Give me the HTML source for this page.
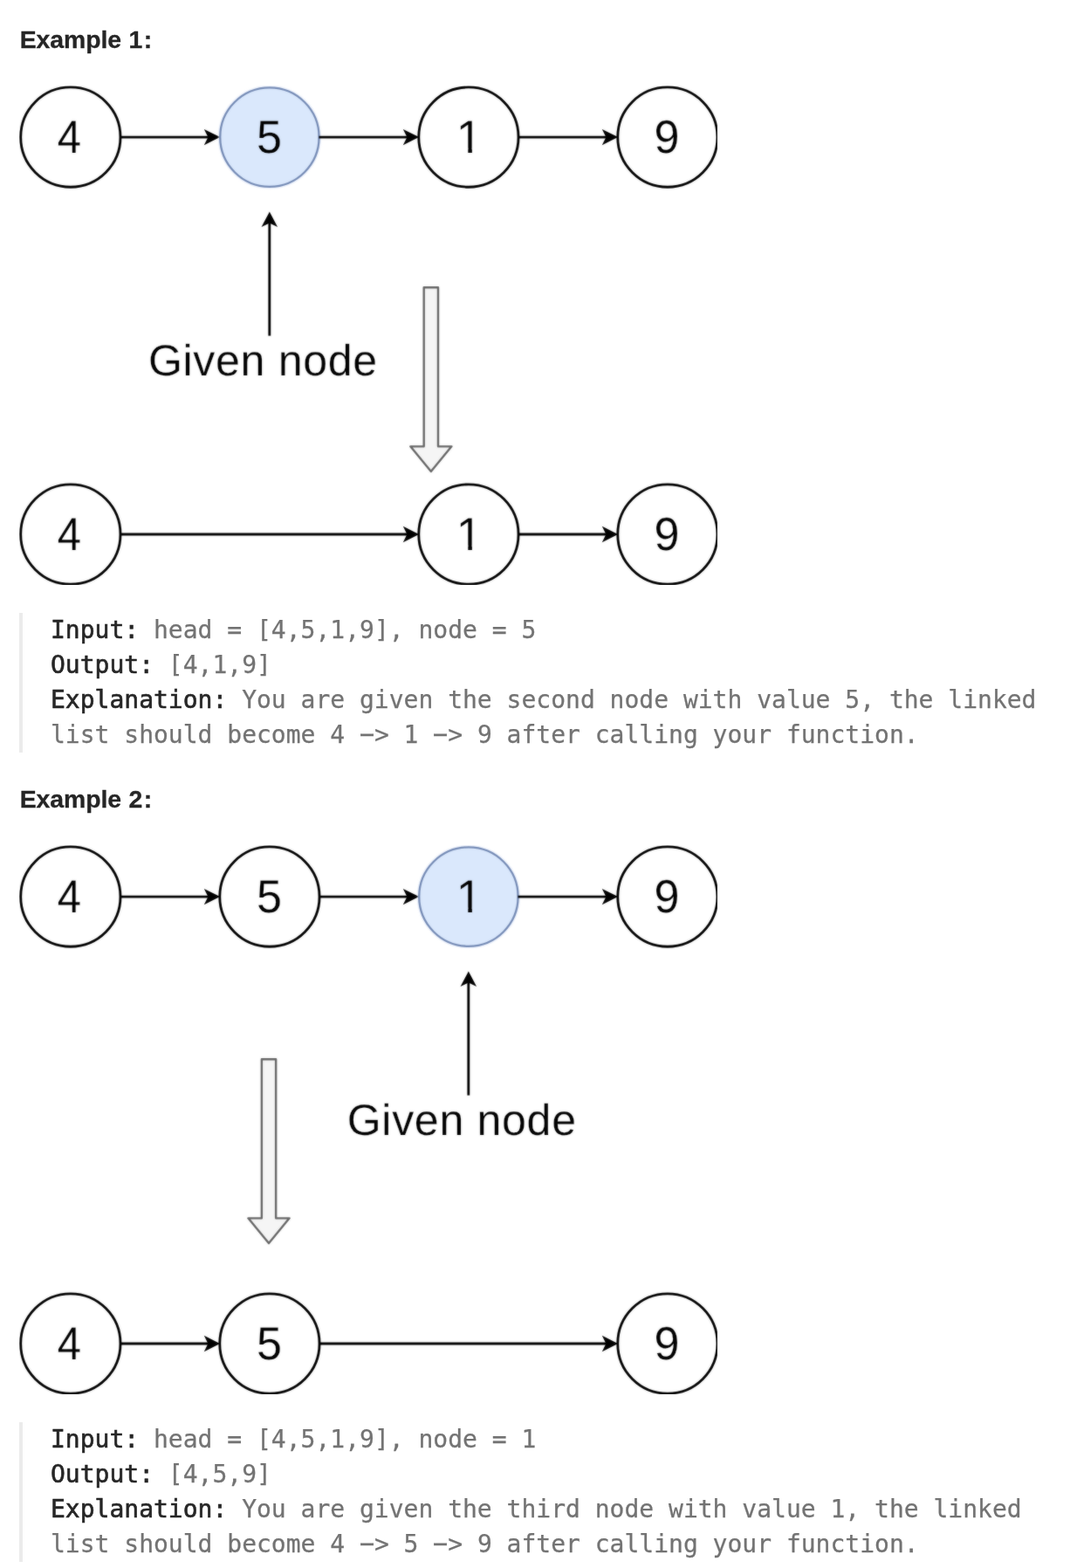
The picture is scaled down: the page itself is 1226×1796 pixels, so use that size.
<!DOCTYPE html>
<html lang="en">
<head>
<meta charset="utf-8">
<title>Delete Node in a Linked List - Examples</title>
<style>
html,body{margin:0;padding:0;background:#fff;}
body{width:1226px;height:1796px;position:relative;overflow:hidden;}
.h{position:absolute;left:22.5px;transform:translate(-0.35px,-0.3px);margin:0;font:bold 28.4px/40px "Liberation Sans",sans-serif;color:#262626;white-space:nowrap;letter-spacing:-0.07px;word-spacing:0.7px;will-change:transform;-webkit-text-stroke:0.3px #262626;}
.h span{letter-spacing:1.5px;}
.dia{position:absolute;left:22.0px;overflow:hidden;}
.cw{fill:#fff;stroke:#000;stroke-width:2.85;}
.cb{fill:#dae8fc;stroke:#758bb5;stroke-width:2.3;}
.ch{fill:none;stroke:#d4e2fa;stroke-width:1.6;stroke-opacity:0.4;}
.ln{fill:none;stroke:#000;stroke-width:2.85;}
.hd{fill:#000;stroke:#000;stroke-width:2.85;stroke-miterlimit:10;}
.ba{fill:#f5f5f5;stroke:#666;stroke-width:2.4;stroke-linejoin:round;}
.dg{stroke:#fff;stroke-width:0.2px;}
.gn{stroke:#fff;stroke-width:0.25px;}
.cb+text,.cb+clipPath+text{stroke:#dae8fc;}
.dg{text-rendering:geometricPrecision;font:53.2px "Liberation Sans",sans-serif;fill:#000;text-anchor:middle;}
.gn{text-rendering:geometricPrecision;font:50.1px "Liberation Sans",sans-serif;fill:#000;letter-spacing:0.68px;}
pre{position:absolute;left:22px;margin:0;box-sizing:border-box;width:1182px;height:160px;border-left:4px solid #ebebeb;padding:0 0 0 32px;
font:28px/40px "DejaVu Sans Mono","Liberation Mono",monospace;color:#737373;-webkit-text-stroke:0.25px #737373;white-space:pre-wrap;will-change:transform;}
pre b{color:#262626;font-weight:normal;-webkit-text-stroke:0.6px #262626;}
pre i{display:inline-block;font-style:normal;transform:translateY(-0.9px) scaleX(2.05);}
</style>
</head>
<body>
<p class="h" style="top:25px">Example <span>1</span>:</p>
<svg class="dia" style="top:98px" width="800" height="572" viewBox="0 0 800 572"><filter id="s98" filterUnits="userSpaceOnUse" x="0" y="0" width="800" height="572" color-interpolation-filters="sRGB"><feGaussianBlur in="SourceGraphic" stdDeviation="0.8" result="b"/><feComposite in="b" in2="SourceGraphic" operator="arithmetic" k1="0" k2="0.42" k3="0.58" k4="0"/></filter><g filter="url(#s98)"><circle cx="58.85" cy="59.10" r="57.15" class="cw"/><text x="57.45" y="77.10" class="dg" transform="translate(57.45 0) scale(0.92 1) translate(-57.45 0)">4</text><path d="M115.40 59.10H217.99" class="ln"/><path d="M226.95 59.10L215.00 53.10L217.99 59.10L215.00 65.10Z" class="hd"/><circle cx="286.90" cy="59.10" r="58.40" class="ch"/><circle cx="286.90" cy="59.10" r="56.7" class="cb"/><text x="286.40" y="77.10" class="dg" transform="translate(286.40 0) scale(0.98 1) translate(-286.40 0)">5</text><path d="M343.45 59.10H445.99" class="ln"/><path d="M454.95 59.10L443.00 53.10L445.99 59.10L443.00 65.10Z" class="hd"/><circle cx="514.90" cy="59.10" r="57.15" class="cw"/><clipPath id="k1"><path d="M495.65 32.10h40v39.50h-16.80v7.50h-4.53v-7.50h-18.67z"/></clipPath><text x="515.65" y="77.10" class="dg" clip-path="url(#k1)">1</text><path d="M571.45 59.10H673.99" class="ln"/><path d="M682.95 59.10L671.00 53.10L673.99 59.10L671.00 65.10Z" class="hd"/><circle cx="742.90" cy="59.10" r="57.15" class="cw"/><text x="741.90" y="77.10" class="dg" transform="translate(741.90 0) scale(0.98 1) translate(-741.90 0)">9</text><circle cx="58.85" cy="514.00" r="57.15" class="cw"/><text x="57.45" y="532.00" class="dg" transform="translate(57.45 0) scale(0.92 1) translate(-57.45 0)">4</text><path d="M115.40 514.00H445.99" class="ln"/><path d="M454.95 514.00L443.00 508.00L445.99 514.00L443.00 520.00Z" class="hd"/><circle cx="514.90" cy="514.00" r="57.15" class="cw"/><clipPath id="k2"><path d="M495.65 487.00h40v39.50h-16.80v7.50h-4.53v-7.50h-18.67z"/></clipPath><text x="515.65" y="532.00" class="dg" clip-path="url(#k2)">1</text><path d="M571.45 514.00H673.99" class="ln"/><path d="M682.95 514.00L671.00 508.00L673.99 514.00L671.00 520.00Z" class="hd"/><circle cx="742.90" cy="514.00" r="57.15" class="cw"/><text x="741.90" y="532.00" class="dg" transform="translate(741.90 0) scale(0.98 1) translate(-741.90 0)">9</text><path d="M286.80 286.60V156.07" class="ln"/><path d="M286.80 147.60L280.80 158.90L286.80 156.07L292.80 158.90Z" class="hd"/><text x="147.90" y="332.10" class="gn">Given node</text><path d="M463.70 231.20H480.00V413.35H495.45L471.85 442.10L448.25 413.35H463.70Z" class="ba"/></g></svg>
<pre style="top:702px"><b>Input:</b> head = [4,5,1,9], node = 5
<b>Output:</b> [4,1,9]
<b>Explanation:</b> You are given the second node with value 5, the linked list should become 4 <i>-</i>&gt; 1 <i>-</i>&gt; 9 after calling your function.</pre>
<p class="h" style="top:895px">Example <span>2</span>:</p>
<svg class="dia" style="top:968px" width="800" height="629" viewBox="0 0 800 629"><filter id="s968" filterUnits="userSpaceOnUse" x="0" y="0" width="800" height="629" color-interpolation-filters="sRGB"><feGaussianBlur in="SourceGraphic" stdDeviation="0.8" result="b"/><feComposite in="b" in2="SourceGraphic" operator="arithmetic" k1="0" k2="0.42" k3="0.58" k4="0"/></filter><g filter="url(#s968)"><circle cx="58.85" cy="59.10" r="57.15" class="cw"/><text x="57.45" y="77.10" class="dg" transform="translate(57.45 0) scale(0.92 1) translate(-57.45 0)">4</text><path d="M115.40 59.10H217.99" class="ln"/><path d="M226.95 59.10L215.00 53.10L217.99 59.10L215.00 65.10Z" class="hd"/><circle cx="286.90" cy="59.10" r="57.15" class="cw"/><text x="286.40" y="77.10" class="dg" transform="translate(286.40 0) scale(0.98 1) translate(-286.40 0)">5</text><path d="M343.45 59.10H445.99" class="ln"/><path d="M454.95 59.10L443.00 53.10L445.99 59.10L443.00 65.10Z" class="hd"/><circle cx="514.90" cy="59.10" r="58.40" class="ch"/><circle cx="514.90" cy="59.10" r="56.7" class="cb"/><clipPath id="k3"><path d="M495.65 32.10h40v39.50h-16.80v7.50h-4.53v-7.50h-18.67z"/></clipPath><text x="515.65" y="77.10" class="dg" clip-path="url(#k3)">1</text><path d="M571.45 59.10H673.99" class="ln"/><path d="M682.95 59.10L671.00 53.10L673.99 59.10L671.00 65.10Z" class="hd"/><circle cx="742.90" cy="59.10" r="57.15" class="cw"/><text x="741.90" y="77.10" class="dg" transform="translate(741.90 0) scale(0.98 1) translate(-741.90 0)">9</text><circle cx="58.85" cy="571.00" r="57.15" class="cw"/><text x="57.45" y="589.00" class="dg" transform="translate(57.45 0) scale(0.92 1) translate(-57.45 0)">4</text><path d="M115.40 571.00H217.99" class="ln"/><path d="M226.95 571.00L215.00 565.00L217.99 571.00L215.00 577.00Z" class="hd"/><circle cx="286.90" cy="571.00" r="57.15" class="cw"/><text x="286.40" y="589.00" class="dg" transform="translate(286.40 0) scale(0.98 1) translate(-286.40 0)">5</text><path d="M343.45 571.00H673.99" class="ln"/><path d="M682.95 571.00L671.00 565.00L673.99 571.00L671.00 577.00Z" class="hd"/><circle cx="742.90" cy="571.00" r="57.15" class="cw"/><text x="741.90" y="589.00" class="dg" transform="translate(741.90 0) scale(0.98 1) translate(-741.90 0)">9</text><path d="M514.80 286.60V156.07" class="ln"/><path d="M514.80 147.60L508.80 158.90L514.80 156.07L520.80 158.90Z" class="hd"/><text x="375.70" y="332.10" class="gn">Given node</text><path d="M277.85 245.20H294.15V427.35H309.60L286.00 456.10L262.40 427.35H277.85Z" class="ba"/></g></svg>
<pre style="top:1629px"><b>Input:</b> head = [4,5,1,9], node = 1
<b>Output:</b> [4,5,9]
<b>Explanation:</b> You are given the third node with value 1, the linked list should become 4 <i>-</i>&gt; 5 <i>-</i>&gt; 9 after calling your function.</pre>
</body>
</html>
